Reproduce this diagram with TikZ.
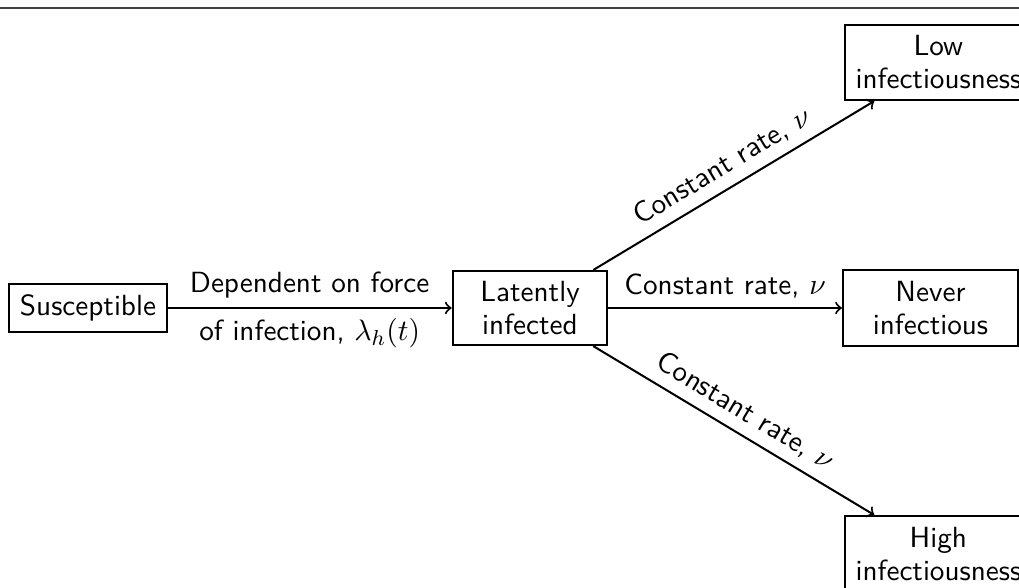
\documentclass[tikz,border=0pt]{standalone}
\begin{document}
\begin{tikzpicture}[x=0.37pt,y=-0.37pt,
  every node/.style={font=\fontsize{10.8}{12.2}\selectfont\sffamily},
  box/.style={draw, line width=0.75pt, align=center, inner xsep=3.9pt, inner ysep=0pt},
  arr/.style={->, line width=0.75pt},
  lbl/.style={midway}]
\useasboundingbox (0,0) rectangle (1019,587);
\clip (0,0) rectangle (1019,587);
\draw[black!75, line width=0.75pt] (0,8) -- (1019,8);
\node[box, minimum height=17.6pt] (sus) at (88,308) {Susceptible};
\node[box, minimum width=57.2pt, minimum height=27.4pt] (lat) at (530,308) {Latently\\infected};
\node[box, minimum width=64.8pt, minimum height=27.8pt] (nev) at (930.5,308) {Never\\infectious};
\node[box, minimum height=27.8pt, anchor=west] (low) at (844,62.5) {Low\\infectiousness};
\node[box, minimum height=27.8pt, anchor=north west] (high) at (844,515) {High\\infectiousness};
\draw[arr] (sus) -- node[lbl, above] {Dependent on force} node[lbl, below] {of infection, $\lambda_h(t)$} (lat);
\draw[arr] (lat) -- node[lbl, above] {Constant rate, $\nu$} (nev);
\draw[arr] (lat) -- node[lbl, sloped, above] {Constant rate, $\nu$} (low);
\draw[arr] (lat) -- node[lbl, sloped, above] {Constant rate, $\nu$} (high);
\end{tikzpicture}
\end{document}
